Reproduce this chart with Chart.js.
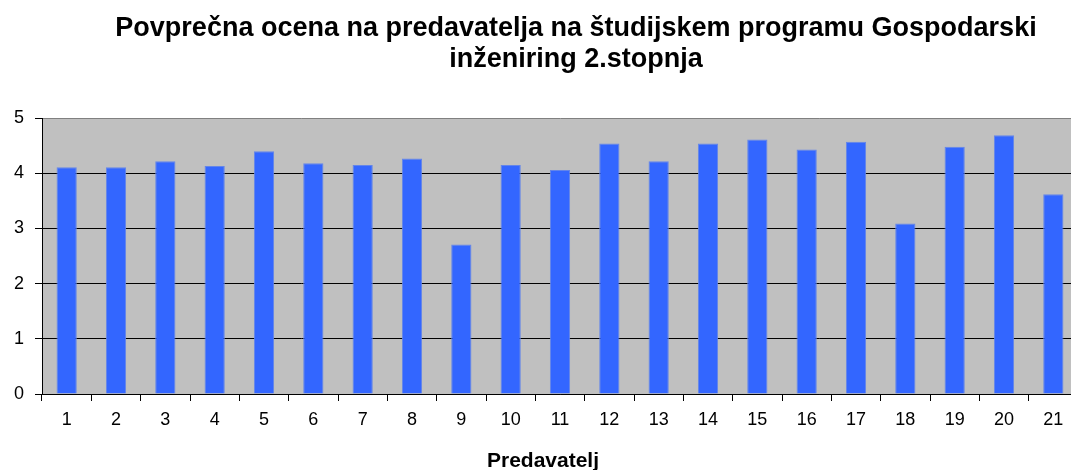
<!DOCTYPE html>
<html>
<head>
<meta charset="utf-8">
<script src="https://cdn.jsdelivr.net/npm/chart.js@4/dist/chart.umd.min.js"></script>
<style>
  body { margin: 0; background: #fff; }
  #wrap { width: 1071px; height: 470px; overflow: hidden; position: relative; }
  #box { width: 1078px; height: 474px; }
</style>
</head>
<body>
<div id="wrap"><div id="box"><canvas id="myChart"></canvas></div></div>
<script>
var predavatelji = ["1", "2", "3", "4", "5", "6", "7", "8", "9", "10", "11",
  "12", "13", "14", "15", "16", "17", "18", "19", "20", "21"];
var ocene = [4.11, 4.11, 4.22, 4.13, 4.40, 4.18, 4.15, 4.27, 2.71, 4.15, 4.06,
  4.54, 4.22, 4.54, 4.61, 4.43, 4.57, 3.09, 4.48, 4.69, 3.62];
var naslov = ["Povprečna ocena na predavatelja na študijskem programu Gospodarski",
  "inženiring 2.stopnja"];
var osX = "Predavatelj";
var pisava = 'Liberation Sans, Arial, sans-serif';

// gray plot background, shifted title, x axis caption
var plotBg = {
  id: 'plotBg',
  beforeDraw: function (chart) {
    var a = chart.chartArea, c = chart.ctx;
    c.save();
    c.fillStyle = '#c0c0c0';
    c.fillRect(a.left, a.top, a.right - a.left, a.bottom - a.top);
    c.restore();
  },
  afterLayout: function (chart) {
    // title sits a bit right of canvas center in the original
    if (chart.titleBlock) {
      chart.titleBlock.left += 37;
      chart.titleBlock.right += 37;
    }
  },
  afterDraw: function (chart) {
    // axis caption is centred on the canvas, not on the plot
    var c = chart.ctx;
    c.save();
    c.font = 'bold 21px ' + pisava;
    c.fillStyle = '#000';
    c.textAlign = 'center';
    c.textBaseline = 'middle';
    c.fillText(osX, chart.width / 2 + 4, 461);
    c.restore();
  }
};

var ctx = document.getElementById('myChart').getContext('2d');

var myChart = new Chart(ctx, {
  type: 'bar',
  data: {
    labels: predavatelji,
    datasets: [{
      data: ocene,
      backgroundColor: '#3366ff',
      borderColor: '#6385ea',
      borderWidth: 1,
      categoryPercentage: 1,
      barPercentage: 0.41
    }]
  },
  options: {
    responsive: true,
    maintainAspectRatio: false,
    animation: false,
    layout: { padding: 0 },
    plugins: {
      legend: { display: false },
      tooltip: { enabled: false },
      title: {
        display: true,
        text: naslov,
        color: '#000',
        font: { family: pisava, size: 27, weight: 'bold', lineHeight: 1.15 },
        padding: { top: 13, bottom: 43 }
      }
    },
    scales: {
      x: {
        grid: {
          display: true,
          drawOnChartArea: false,
          drawTicks: true,
          tickLength: 7,
          color: '#000',
          tickColor: '#000'
        },
        border: { color: '#000', width: 1 },
        ticks: {
          color: '#000',
          font: { family: pisava, size: 18 },
          padding: 8,
          maxRotation: 0
        },
        afterFit: function (scale) { scale.height = 80; }
      },
      y: {
        min: 0,
        max: 5,
        ticks: {
          stepSize: 1,
          color: '#000',
          font: { family: pisava, size: 18 },
          padding: 11
        },
        grid: {
          color: function (c) { return c.tick && c.tick.value === 5 ? '#808080' : '#000'; },
          tickColor: '#000',
          tickLength: 7,
          lineWidth: 1
        },
        border: { color: '#000', width: 1 },
        afterFit: function (scale) { scale.width = 42; }
      }
    }
  },
  plugins: [plotBg]
});
</script>
</body>
</html>
